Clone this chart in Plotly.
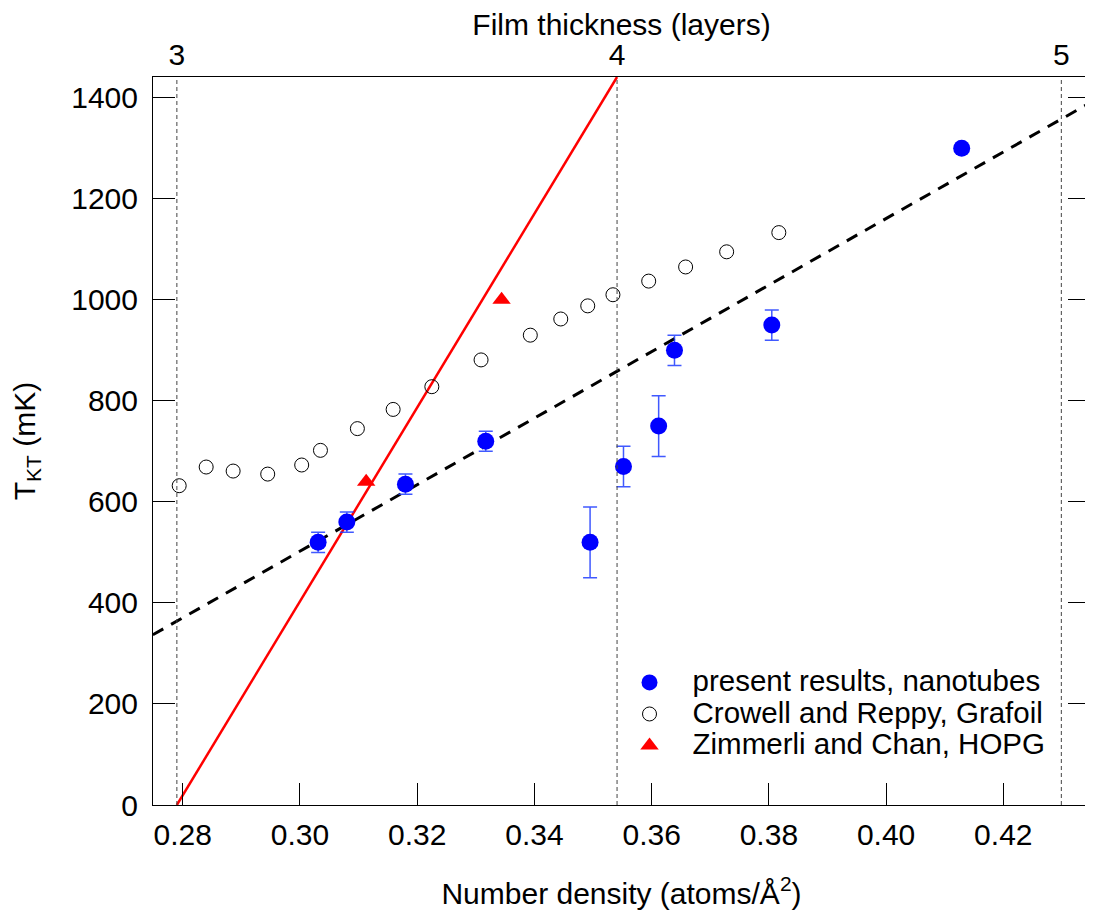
import plotly.graph_objects as go

# ---------------- data ----------------
# present results, nanotubes
pr_n = [0.3031, 0.3080, 0.3180, 0.3317, 0.3495, 0.3552, 0.3612, 0.3639, 0.3805, 0.4129]
pr_T = [520, 560, 635, 720, 520, 670, 750, 900, 950, 1300]
pr_err = [20, 20, 20, 20, 70, 40, 60, 30, 30, 0]

# Crowell and Reppy, Grafoil
cr_n = [0.2794, 0.2840, 0.2886, 0.2945, 0.3003, 0.3035, 0.3098, 0.3159, 0.3225,
        0.3309, 0.3393, 0.3445, 0.3491, 0.3534, 0.3595, 0.3658, 0.3728, 0.3817]
cr_T = [632, 669, 661, 655, 673, 702, 745, 783, 828,
        881, 930, 962, 988, 1010, 1037, 1065, 1095, 1133]

# Zimmerli and Chan, HOPG
zc_n = [0.3113, 0.3344]
zc_T = [640, 1000]

# straight guide lines (end points)
red_n = [0.2790, 0.3541]
red_T = [0, 1441]
dash_n = [0.2749, 0.4348]
dash_T = [337, 1390]

# layer completion densities (top axis)
layer_n = [0.2790, 0.3541, 0.4299]
layer_labels = ["3", "4", "5"]

x_ticks = [0.28, 0.30, 0.32, 0.34, 0.36, 0.38, 0.40, 0.42]
y_ticks = [0, 200, 400, 600, 800, 1000, 1200, 1400]

X_RANGE = [0.27493, 0.43479]
Y_RANGE = [0, 1441]

FONT = "Liberation Sans, Arial, sans-serif"
LEG_PX = 29.5

fig = go.Figure()

# vertical layer lines on the top axis
vx, vy = [], []
for v in layer_n:
    vx += [v, v, None]
    vy += [Y_RANGE[0], Y_RANGE[1], None]
fig.add_trace(go.Scatter(x=vx, y=vy, xaxis="x2", yaxis="y", mode="lines",
                         line=dict(color="#444444", width=1, dash="4px,3px"),
                         showlegend=False, hoverinfo="skip"))

# red line
fig.add_trace(go.Scatter(x=red_n, y=red_T, mode="lines",
                         line=dict(color="#ff0000", width=2.5),
                         showlegend=False, hoverinfo="skip"))
# black dashed line
fig.add_trace(go.Scatter(x=dash_n, y=dash_T, mode="lines",
                         line=dict(color="#000000", width=3, dash="12px,9px"),
                         showlegend=False, hoverinfo="skip"))

# data series
fig.add_trace(go.Scatter(
    x=pr_n, y=pr_T, mode="markers",
    name=f'<span style="font-size:{LEG_PX}px">present results, nanotubes</span>',
    marker=dict(symbol="circle", size=17, color="#0000ff"),
    error_y=dict(type="data", array=pr_err, visible=True,
                 color="rgba(30,60,255,0.85)", thickness=1.5, width=7)))
fig.add_trace(go.Scatter(
    x=cr_n, y=cr_T, mode="markers",
    name=f'<span style="font-size:{LEG_PX}px">Crowell and Reppy, Grafoil</span>',
    marker=dict(symbol="circle-open", size=14, color="#000000",
                line=dict(width=1, color="#000000"))))
fig.add_trace(go.Scatter(
    x=zc_n, y=zc_T, mode="markers",
    name=f'<span style="font-size:{LEG_PX}px">Zimmerli and Chan, HOPG</span>',
    marker=dict(symbol="triangle-up", size=16, color="#ff0000")))

axis_common = dict(showgrid=False, zeroline=False, automargin=False,
                   tickfont=dict(size=30, color="black", family=FONT))

# page body has an 8px margin: figure is sized/offset to compensate
fig.update_layout(
    width=1085, height=913,
    margin=dict(l=145, r=3, t=69, b=116, autoexpand=False),
    paper_bgcolor="white", plot_bgcolor="white",
    font=dict(family=FONT, size=30, color="black"),
    xaxis=dict(range=X_RANGE, tickvals=x_ticks,
               ticktext=[f"{v:.2f}" for v in x_ticks],
               ticks="inside", ticklen=22, tickwidth=1, tickcolor="black",
               showline=True, linecolor="black", linewidth=1, mirror=True,
               ticklabelstandoff=3,
               title=dict(text="Number density (atoms/Å<sup>2</sup>)",
                          font=dict(size=30), standoff=32),
               **axis_common),
    xaxis2=dict(range=X_RANGE, overlaying="x", side="top", anchor="y",
                tickvals=layer_n, ticktext=layer_labels, ticks="",
                showline=False, ticklabelstandoff=5,
                title=dict(text="Film thickness (layers)", font=dict(size=30),
                           standoff=15),
                **axis_common),
    yaxis=dict(range=Y_RANGE, tickvals=y_ticks,
               ticks="inside", ticklen=22, tickwidth=1, tickcolor="black",
               showline=True, linecolor="black", linewidth=1, mirror="ticks",
               ticklabelstandoff=8,
               title=dict(text="T<sub>KT</sub> (mK)", font=dict(size=30),
                          standoff=46),
               **axis_common),
    legend=dict(x=0.484, y=0.197, xanchor="left", yanchor="top",
                bgcolor="rgba(0,0,0,0)", borderwidth=0,
                font=dict(size=22, family=FONT, color="black"),
                itemwidth=76, traceorder="normal"),
    showlegend=True,
)

fig.write_html("out.html")
